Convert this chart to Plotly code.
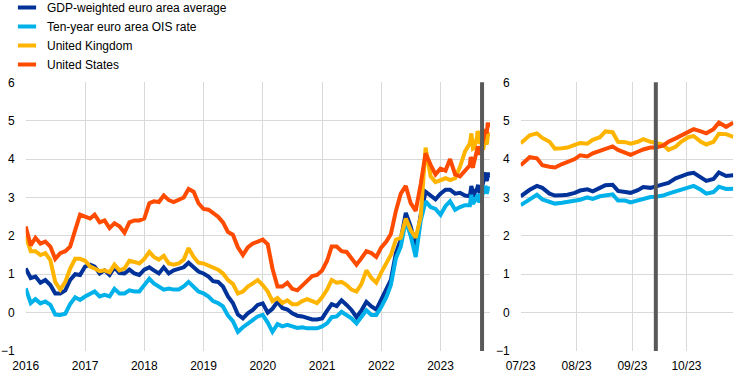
import pandas as pd
import plotly.graph_objects as go

# ---------------- data ----------------
# monthly observations (first of month), Jan 2016 - Jun 2023
monthly_dates = pd.date_range("2016-01-01", "2023-06-01", freq="MS")

us_monthly = [
    2.24, 1.75, 1.95, 1.80, 1.85, 1.72, 1.40, 1.55, 1.60, 1.72, 2.15, 2.55,
    2.50, 2.45, 2.55, 2.35, 2.40, 2.20, 2.33, 2.25, 2.08, 2.35, 2.40, 2.40,
    2.45, 2.85, 2.90, 2.88, 3.05, 2.93, 2.88, 2.95, 3.00, 3.22, 3.15, 2.85,
    2.70, 2.68, 2.60, 2.50, 2.35, 2.10, 2.03, 1.70, 1.50, 1.70, 1.80, 1.85,
    1.90, 1.78, 1.15, 0.68, 0.68, 0.78, 0.62, 0.58, 0.70, 0.80, 0.95, 0.98,
    1.10, 1.35, 1.72, 1.72, 1.60, 1.58, 1.40, 1.25, 1.42, 1.60, 1.55, 1.45,
    1.70, 1.85, 2.05, 2.65, 3.10, 3.30, 2.85, 2.65, 3.35, 4.15, 3.85, 3.60,
    3.75, 3.70, 4.00, 3.60, 3.55, 3.70,
]
uk_monthly = [
    2.00, 1.60, 1.60, 1.50, 1.55, 1.37, 0.80, 0.60, 0.80, 1.15, 1.40, 1.40,
    1.35, 1.20, 1.15, 1.08, 1.10, 1.05, 1.25, 1.10, 1.15, 1.35, 1.32, 1.28,
    1.40, 1.58, 1.45, 1.38, 1.48, 1.28, 1.25, 1.28, 1.38, 1.68, 1.45, 1.30,
    1.28, 1.22, 1.18, 1.12, 1.02, 0.85, 0.75, 0.50, 0.55, 0.68, 0.76, 0.85,
    0.72, 0.55, 0.30, 0.38, 0.25, 0.32, 0.22, 0.22, 0.30, 0.35, 0.30, 0.25,
    0.40, 0.60, 0.85, 0.78, 0.80, 0.72, 0.60, 0.55, 0.75, 1.10, 0.90, 0.78,
    1.05, 1.30, 1.50, 1.90, 1.95, 2.45, 2.15, 1.95, 2.50, 4.30, 3.55, 3.40,
    3.45, 3.50, 3.45, 3.50, 3.80, 4.20,
]
gdp_monthly = [
    1.15, 0.90, 0.94, 0.78, 0.85, 0.72, 0.50, 0.50, 0.58, 0.85, 1.00, 0.98,
    1.20, 1.25, 1.20, 1.02, 1.10, 0.98, 1.18, 1.03, 1.02, 1.12, 1.02, 0.98,
    1.12, 1.18, 1.10, 1.02, 1.18, 1.02, 1.10, 1.15, 1.18, 1.30, 1.18, 1.07,
    1.02, 0.94, 0.82, 0.80, 0.68, 0.42, 0.25, -0.05, -0.15, -0.02, 0.07, 0.20,
    0.24, 0.00, 0.10, 0.28, 0.12, 0.08, -0.02, -0.08, -0.10, -0.14, -0.18, -0.18,
    -0.15, 0.05, 0.22, 0.17, 0.32, 0.20, 0.07, -0.12, 0.06, 0.28, 0.16, 0.08,
    0.35, 0.60, 0.85, 1.55, 1.90, 2.60, 2.25, 1.75, 2.55, 3.15, 3.05, 2.95,
    3.10, 3.20, 3.20, 3.10, 3.12, 3.05,
]
ois_monthly = [
    0.63, 0.25, 0.35, 0.24, 0.29, 0.20, -0.05, -0.06, -0.03, 0.22, 0.40, 0.33,
    0.42, 0.50, 0.55, 0.42, 0.46, 0.42, 0.62, 0.50, 0.50, 0.58, 0.55, 0.55,
    0.70, 0.88, 0.76, 0.68, 0.60, 0.63, 0.60, 0.60, 0.68, 0.80, 0.68, 0.55,
    0.50, 0.42, 0.30, 0.25, 0.16, -0.08, -0.22, -0.50, -0.38, -0.28, -0.20, -0.10,
    -0.06, -0.26, -0.50, -0.30, -0.36, -0.32, -0.36, -0.40, -0.38, -0.41, -0.41, -0.41,
    -0.36, -0.28, -0.12, -0.10, 0.02, -0.06, -0.15, -0.28, -0.10, 0.06, -0.06, -0.06,
    0.15, 0.40, 0.72, 1.42, 1.72, 2.40, 2.00, 1.45, 2.40, 2.90, 2.75, 2.70,
    2.55, 2.78, 2.90, 2.68, 2.75, 2.80,
]

# recent observations, Jul - Oct 2023
recent_dates = [
    "2023-07-01", "2023-07-06", "2023-07-10", "2023-07-13", "2023-07-17", "2023-07-20",
    "2023-07-24", "2023-07-27", "2023-07-31", "2023-08-03", "2023-08-07", "2023-08-10",
    "2023-08-14", "2023-08-17", "2023-08-21", "2023-08-24", "2023-08-28", "2023-08-31",
    "2023-09-04", "2023-09-07", "2023-09-11", "2023-09-14", "2023-09-18", "2023-09-21",
    "2023-09-25", "2023-09-28", "2023-10-02", "2023-10-05", "2023-10-09", "2023-10-12",
    "2023-10-16", "2023-10-19", "2023-10-23", "2023-10-27",
]
us_recent = [
    3.84, 4.05, 4.02, 3.84, 3.80, 3.78, 3.87, 3.93, 4.00, 4.10, 4.07, 4.15,
    4.22, 4.28, 4.33, 4.24, 4.18, 4.11, 4.19, 4.25, 4.30, 4.30, 4.35, 4.45,
    4.54, 4.62, 4.70, 4.78, 4.72, 4.67, 4.78, 4.95, 4.84, 4.95,
]
uk_recent = [
    4.41, 4.62, 4.67, 4.55, 4.45, 4.27, 4.28, 4.30, 4.37, 4.42, 4.40, 4.50,
    4.57, 4.72, 4.70, 4.45, 4.44, 4.40, 4.45, 4.52, 4.45, 4.41, 4.38, 4.24,
    4.32, 4.45, 4.57, 4.60, 4.45, 4.38, 4.45, 4.66, 4.65, 4.58,
]
gdp_recent = [
    3.03, 3.20, 3.30, 3.25, 3.10, 3.05, 3.06, 3.07, 3.12, 3.18, 3.21, 3.16,
    3.25, 3.32, 3.33, 3.17, 3.14, 3.12, 3.19, 3.27, 3.25, 3.30, 3.34, 3.38,
    3.50, 3.55, 3.62, 3.64, 3.52, 3.43, 3.48, 3.65, 3.56, 3.58,
]
ois_recent = [
    2.80, 2.95, 3.07, 2.95, 2.89, 2.84, 2.86, 2.88, 2.90, 2.94, 3.00, 2.96,
    3.03, 3.06, 3.08, 2.92, 2.92, 2.87, 2.93, 2.97, 3.01, 3.02, 3.05, 3.10,
    3.16, 3.22, 3.28, 3.30, 3.20, 3.10, 3.14, 3.28, 3.22, 3.23,
]

series_names = [
    "GDP-weighted euro area average",
    "Ten-year euro area OIS rate",
    "United Kingdom",
    "United States",
]
series_colors = ["#003299", "#00B1EA", "#FFB400", "#FF4B00"]
y_ticks = [-1, 0, 1, 2, 3, 4, 5, 6]
cutoff_date = "2023-09-14"
left_range = ["2016-01-01", "2023-11-02"]
right_range = ["2023-07-01", "2023-10-27"]

# ---------------- build ----------------
all_dates = list(monthly_dates) + list(pd.to_datetime(recent_dates))
full = [
    gdp_monthly + gdp_recent,
    ois_monthly + ois_recent,
    uk_monthly + uk_recent,
    us_monthly + us_recent,
]
recent = [gdp_recent, ois_recent, uk_recent, us_recent]

fig = go.Figure()
for i in range(4):
    fig.add_trace(go.Scatter(
        x=all_dates, y=full[i], mode="lines", xaxis="x", yaxis="y",
        line=dict(color=series_colors[i], width=4), showlegend=False,
        hoverinfo="skip"))
for i in range(4):
    fig.add_trace(go.Scatter(
        x=pd.to_datetime(recent_dates), y=recent[i], mode="lines", xaxis="x2", yaxis="y2",
        line=dict(color=series_colors[i], width=4), showlegend=False,
        hoverinfo="skip"))
# legend entries (short thick line symbols)
for name, col in zip(series_names, series_colors):
    fig.add_trace(go.Scatter(
        x=[None], y=[None], mode="markers", name=name,
        marker=dict(symbol="line-ew", size=13, color=col,
                    line=dict(width=4, color=col))))

for xr, yr in [("x", "y domain"), ("x2", "y2 domain")]:
    fig.add_shape(type="line", xref=xr, yref=yr,
                  x0=cutoff_date, x1=cutoff_date, y0=0, y1=1,
                  line=dict(color="#595959", width=4), layer="above")

W, H = 742, 377
top_px, bot_px = 82.3, 351.0
l_left, l_right = 25.7, 490.0
r_left, r_right = 520.7, 733.3
ydom = [(H - bot_px) / H, (H - top_px) / H]

font = dict(family="Liberation Sans, Arial, sans-serif", size=12, color="#000000")
grid = "#D9D9D9"

common_y = dict(range=[-1, 6], tickvals=y_ticks, showgrid=True, gridcolor=grid,
                gridwidth=1, zeroline=False, showline=False, ticks="",
                ticklabelstandoff=10, domain=ydom, tickfont=font, fixedrange=True,
                layer="below traces")
common_x = dict(type="date", showgrid=True, gridcolor=grid, gridwidth=1,
                zeroline=False, showline=False, ticks="", ticklabelstandoff=6,
                tickfont=font, layer="below traces")

fig.update_layout(
    template="none",
    width=W, height=H,
    margin=dict(l=0, r=0, t=0, b=0, pad=0, autoexpand=False),
    paper_bgcolor="white", plot_bgcolor="white",
    font=font,
    xaxis=dict(range=left_range, domain=[l_left / W, l_right / W],
               tick0="2016-01-01", dtick="M12", tickformat="%Y", anchor="y",
               **common_x),
    xaxis2=dict(range=right_range, domain=[r_left / W, r_right / W],
                tick0="2023-07-01", dtick="M1", tickformat="%m/%y", anchor="y2",
                **common_x),
    yaxis=dict(anchor="x", **common_y),
    yaxis2=dict(anchor="x2", **common_y),
    legend=dict(x=7 / W, y=1 + 7 / H, xanchor="left", yanchor="top",
                bgcolor="rgba(0,0,0,0)", font=font, tracegroupgap=0,
                itemwidth=30),
    showlegend=True,
)

fig.write_html("out.html", config={"displayModeBar": False},
               post_script="document.body.style.margin='0';")
